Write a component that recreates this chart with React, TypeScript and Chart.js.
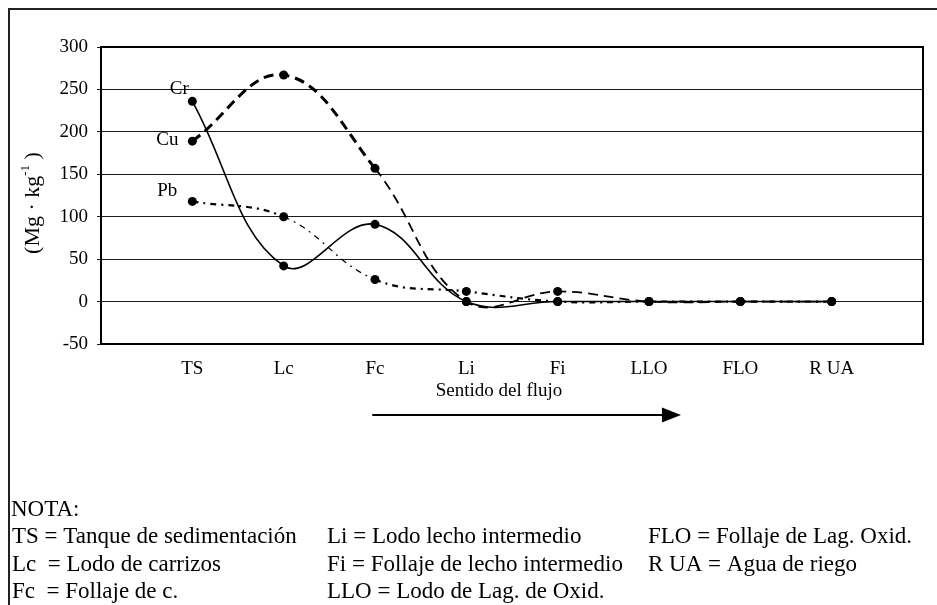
import React, { useEffect, useRef } from "react";
import { Chart, registerables } from "chart.js";

Chart.register(...registerables);

const categories = ["TS", "Lc", "Fc", "Li", "Fi", "LLO", "FLO", "R UA"];
const positions = [1, 2, 3, 4, 5, 6, 7, 8];
const crValues = [236, 42, 91, 0, 0, 0, 0, 0];
const cuValues = [189, 267, 157, 0, 12, 0, 0, 0];
const pbValues = [118, 100, 26, 12, 0, 0, 0, 0];
const seriesNames = ["Cr", "Cu", "Pb"];
const yMin = -50;
const yMax = 300;
const yStep = 50;
const xTitle = "Sentido del flujo";
const yTitleMain = "(Mg · kg";
const yTitleSup = "-1";
const yTitleEnd = " )";
const noteTitle = "NOTA:";
const noteCol1 = ["TS = Tanque de sedimentación", "Lc  = Lodo de carrizos", "Fc  = Follaje de c."];
const noteCol2 = ["Li = Lodo lecho intermedio", "Fi = Follaje de lecho intermedio", "LLO = Lodo de Lag. de Oxid."];
const noteCol3 = ["FLO = Follaje de Lag. Oxid.", "R UA = Agua de riego"];

const FONT = "'Liberation Serif', 'Times New Roman', serif";

const labelOffsets = [
  [-13, -12],
  [-25, -1],
  [-25, -10],
];

const decorPlugin = {
  id: "decor",
  beforeDraw(chart: any) {
    const ctx = chart.ctx;
    ctx.save();
    ctx.fillStyle = "#fff";
    ctx.fillRect(0, 0, chart.width, chart.height);
    ctx.restore();
  },
  afterDatasetsDraw(chart: any) {
    const ctx = chart.ctx;
    const a = chart.chartArea;
    ctx.save();
    // plot border
    ctx.strokeStyle = "#000";
    ctx.lineWidth = 2;
    ctx.strokeRect(a.left, a.top, a.right - a.left, a.bottom - a.top);
    // outer frame
    ctx.strokeStyle = "#222";
    ctx.lineWidth = 2;
    ctx.strokeRect(9, 9, 1200, 1200);
    // series labels
    ctx.fillStyle = "#000";
    ctx.font = `19px ${FONT}`;
    ctx.textAlign = "center";
    ctx.textBaseline = "middle";
    chart.data.datasets.forEach((ds: any, i: number) => {
      const meta = chart.getDatasetMeta(i);
      const p = meta.data[0];
      if (!p) return;
      ctx.fillText(seriesNames[i], p.x + labelOffsets[i][0], p.y + labelOffsets[i][1]);
    });
    // x title
    const xs = chart.scales.x;
    ctx.fillText(xTitle, (a.left + a.right) / 2 - 13, a.bottom + 47);
    // arrow
    const ay = a.bottom + 71;
    const x0 = xs.getPixelForValue(2.97);
    const x1 = xs.getPixelForValue(6.35);
    ctx.strokeStyle = "#000";
    ctx.lineWidth = 2;
    ctx.beginPath();
    ctx.moveTo(x0, ay);
    ctx.lineTo(x1 - 16, ay);
    ctx.stroke();
    ctx.beginPath();
    ctx.moveTo(x1, ay);
    ctx.lineTo(x1 - 19, ay - 7.5);
    ctx.lineTo(x1 - 19, ay + 7.5);
    ctx.closePath();
    ctx.fill();
    // notes
    ctx.font = `23px ${FONT}`;
    ctx.textAlign = "left";
    ctx.textBaseline = "alphabetic";
    const base = (i: number) => 515.5 + i * 27.5;
    ctx.fillText(noteTitle, 11, base(0));
    noteCol1.forEach((t, i) => ctx.fillText(t, 12, base(i + 1)));
    noteCol2.forEach((t, i) => ctx.fillText(t, 327, base(i + 1)));
    noteCol3.forEach((t, i) => ctx.fillText(t, 648, base(i + 1)));
    // y title
    ctx.translate(32, 203);
    ctx.rotate(-Math.PI / 2);
    ctx.font = `22px ${FONT}`;
    const w1 = ctx.measureText(yTitleMain).width;
    const w3 = ctx.measureText(yTitleEnd).width;
    ctx.font = `13px ${FONT}`;
    const w2 = ctx.measureText(yTitleSup).width;
    const total = w1 + w2 + w3;
    let x = -total / 2;
    ctx.font = `22px ${FONT}`;
    ctx.fillText(yTitleMain, x, 7);
    x += w1;
    ctx.font = `13px ${FONT}`;
    ctx.fillText(yTitleSup, x, -3);
    x += w2;
    ctx.font = `22px ${FONT}`;
    ctx.fillText(yTitleEnd, x, 7);
    ctx.restore();
  },
};

function toPoints(vals: number[]) {
  return vals.map((v, i) => ({ x: positions[i], y: v }));
}

export default function App() {
  const ref = useRef<HTMLCanvasElement | null>(null);
  useEffect(() => {
    if (!ref.current) return;
    const common = {
      borderColor: "#000",
      pointBackgroundColor: "#000",
      pointBorderColor: "#000",
      pointBorderWidth: 0,
      pointRadius: 4.5,
      tension: 0.4,
      fill: false,
      clip: false as any,
    };
    const chart = new Chart(ref.current, {
      type: "line",
      data: {
        datasets: [
          { ...common, label: seriesNames[0], data: toPoints(crValues), borderWidth: 1.6 },
          {
            ...common,
            label: seriesNames[1],
            data: toPoints(cuValues),
            borderWidth: 2.5,
            borderDash: [10, 6],
            segment: { borderWidth: (c: any) => (c.p0DataIndex < 2 ? 3 : 1.8) },
          },
          {
            ...common,
            label: seriesNames[2],
            data: toPoints(pbValues),
            borderWidth: 2,
            borderDash: [6, 5, 2, 5],
            segment: { borderWidth: (c: any) => (c.p0DataIndex === 1 ? 1.2 : 2.2) },
          },
        ],
      },
      options: {
        responsive: false,
        animation: false,
        events: [],
        layout: { padding: { top: 47, right: 10, bottom: 221, left: 0 } },
        plugins: { legend: { display: false }, tooltip: { enabled: false } },
        scales: {
          x: {
            type: "linear",
            min: 0,
            max: 9,
            grid: { display: false, drawTicks: false },
            border: { display: false },
            ticks: {
              stepSize: 1,
              autoSkip: false,
              maxRotation: 0,
              padding: 14,
              color: "#000",
              font: { family: FONT, size: 19 },
              callback: (v: any) => categories[Number(v) - 1] ?? "",
            },
            afterFit: (s: any) => {
              s.height = 40;
            },
          },
          y: {
            min: yMin,
            max: yMax,
            grid: { color: "#1a1a1a", lineWidth: 1, tickLength: 4, drawTicks: true },
            border: { display: false },
            ticks: {
              stepSize: yStep,
              padding: 9,
              color: "#000",
              font: { family: FONT, size: 19 },
            },
            afterFit: (s: any) => {
              s.width = 101;
            },
          },
        },
      },
      plugins: [decorPlugin],
    });
    return () => chart.destroy();
  }, []);

  return (
    <div style={{ position: "fixed", left: 0, top: 0, width: 937, height: 605, overflow: "hidden", background: "#fff" }}>
      <canvas ref={ref} width={937} height={605} style={{ position: "absolute", left: 0, top: 0 }} />
    </div>
  );
}
